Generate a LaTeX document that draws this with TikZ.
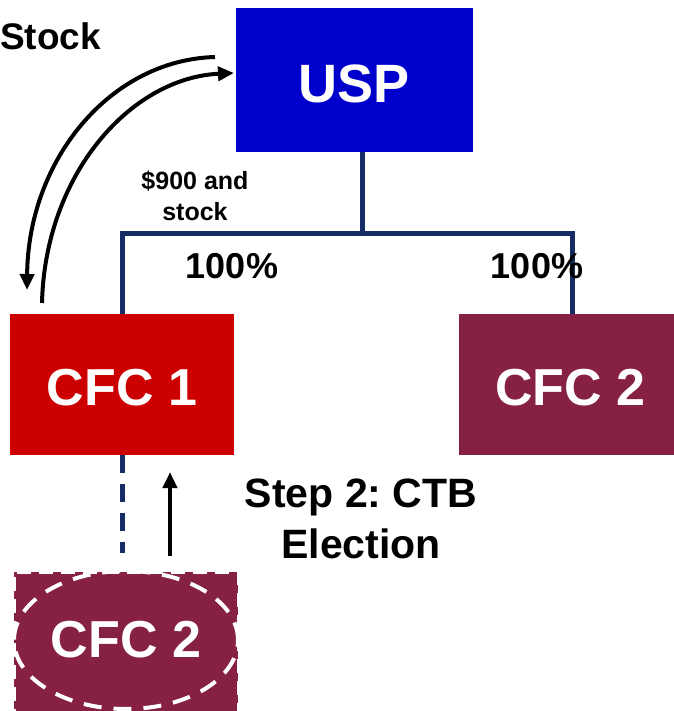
\documentclass[tikz,border=0pt]{standalone}
\usepackage{fontspec}
\setmainfont{Liberation Sans}
\frenchspacing
\usetikzlibrary{arrows.meta,shapes.geometric}
\definecolor{uspblue}{RGB}{0,0,204}
\definecolor{cfcred}{RGB}{204,0,0}
\definecolor{cfcmaroon}{RGB}{134,32,69}
\definecolor{treenavy}{RGB}{22,44,100}
\tikzset{
  entity/.style={minimum width=224pt, minimum height=141pt, inner sep=0pt,
    text=white, font=\fontsize{52}{52}\selectfont\bfseries},
  tree/.style={draw=treenavy, line width=5pt},
  flow/.style={draw=black, line width=4pt, -{Triangle[length=16pt,width=14pt]}},
  lbl/.style={font=\bfseries, align=center, inner sep=0pt},
}
\begin{document}
\begin{tikzpicture}[x=1pt,y=-1pt]
\useasboundingbox (0,0) rectangle (673,711);
% entities
\node[entity, fill=uspblue, minimum width=237pt, minimum height=144pt,
  font=\fontsize{54}{54}\selectfont\bfseries] (usp) at (354.5,80) {};
\node[text=white, font=\fontsize{54}{54}\selectfont\bfseries] (uspt) at ([yshift=-4pt]usp.center) {USP};
\node[entity, fill=cfcred] (cfc1) at (122,384.5) {};
\node[text=white, font=\fontsize{52}{52}\selectfont\bfseries] (cfc1t) at ([yshift=-3pt]cfc1.center) {CFC 1};
\node[entity, fill=cfcmaroon] (cfc2) at (570.5,384.5) {};
\node[text=white, font=\fontsize{52}{52}\selectfont\bfseries] (cfc2t) at ([yshift=-3pt]cfc2.center) {CFC 2};
\node[entity, fill=cfcmaroon, draw=white, line width=3pt, dash pattern=on 14pt off 8pt] (cfc2b) at (126,642.5) {};
\node[draw=white, ellipse, line width=4pt, dash pattern=on 18pt off 12pt,
  minimum width=224pt, minimum height=138pt] (oval) at (126,640) {};
\node[text=white, font=\fontsize{52}{52}\selectfont\bfseries] (cfc2bt) at (oval.center) {CFC 2};
% ownership tree
\coordinate (junc) at (362,233);
\draw[tree] (usp.south -| junc) -- (junc);
\draw[tree] (cfc1.north) |- (junc) -| ([xshift=1.5pt]cfc2.north);
\coordinate (dashend) at (122,553);
\draw[tree, dash pattern=on 18pt off 11pt] (cfc1.south) -- (dashend);
% labels
\node[lbl, font=\fontsize{36}{36}\selectfont\bfseries] (pl) at (232,266) {100\%};
\node[lbl, font=\fontsize{36}{36}\selectfont\bfseries] (pr) at (537,266) {100\%};
\node[lbl, font=\fontsize{25}{31}\selectfont\bfseries] (pay) at (195,196) {\$900 and\\stock};
\node[lbl, anchor=west, font=\fontsize{37}{37}\selectfont\bfseries] (stk) at (0,36) {Stock};
\node[lbl, font=\fontsize{41}{51}\selectfont\bfseries] (step) at (361,519) {Step 2: CTB\\Election};
% transfers
\coordinate (o1) at (215,57);
\coordinate (o2) at (27,290);
\coordinate (i1) at (42,303);
\coordinate (i2) at (234,73);
\draw[flow] (o1) .. controls (110,60) and (28,160) .. (o2);
\draw[flow] (i1) .. controls (45,175) and (130,78) .. (i2);
\coordinate (up1) at (170,556);
\coordinate (up2) at (170,472);
\draw[flow] (up1) -- (up2);
\end{tikzpicture}
\end{document}
